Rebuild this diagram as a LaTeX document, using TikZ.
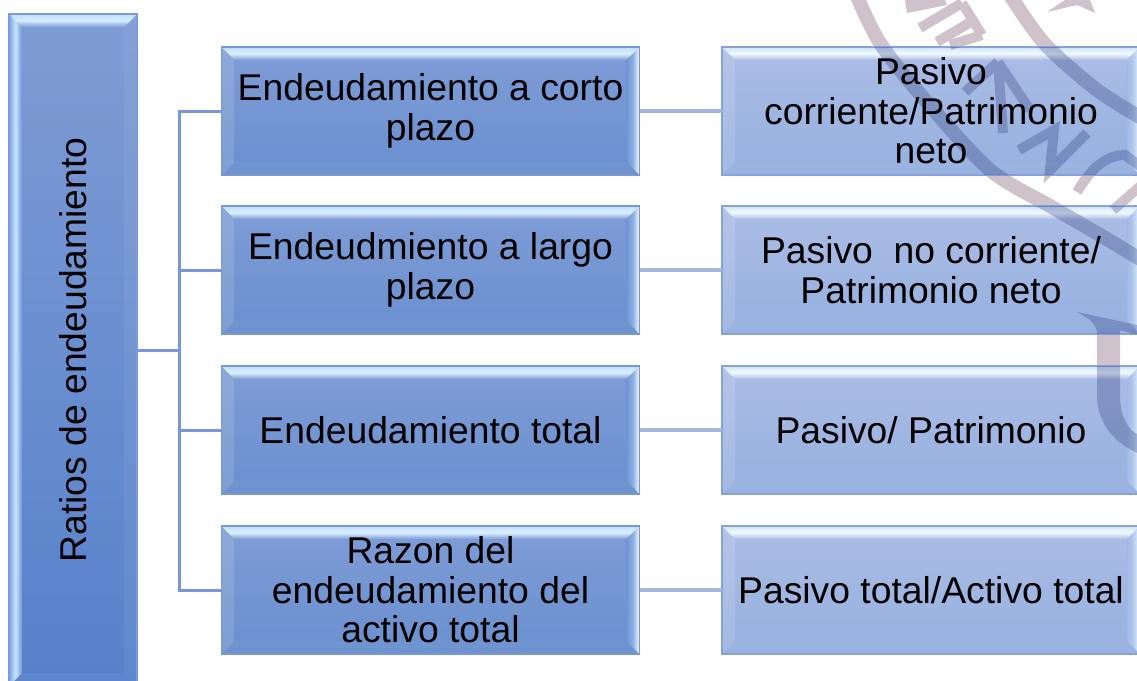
\documentclass[tikz,border=0pt]{standalone}
\usepackage{fontspec}
\setmainfont{Liberation Sans}
\usetikzlibrary{calc}
\definecolor{wm}{HTML}{CFC2CB}
\definecolor{wmdark}{HTML}{202C6E}
\newcommand{\hx}[1]{\definecolor{c#1}{HTML}{#1}}
\hx{7B96D4}\hx{7F9CD6}\hx{6A90CE}\hx{BFDCFB}\hx{DDF0FF}
\hx{8DB0E8}\hx{F4FCFF}\hx{7394D2}
\hx{86A2DC}\hx{ABBDE5}\hx{96B0DF}\hx{CFE3F9}\hx{F2FAFF}\hx{A2B8E2}\hx{B5CDEE}
\hx{7B9ADB}\hx{7F9CD4}\hx{5681CA}\hx{C0DEFC}\hx{D8EDFF}\hx{7DA3E6}\hx{6E92D8}\hx{C8E6FF}
\hx{7B96D8}\hx{A5B4DD}
\hx{FFFFFF}
% #1-#4 trapezoid, #5-#6 rectangle holding the strip's own gradient, #7 shading
\newcommand{\bevstrip}[7]{%
  \begin{scope}\clip #1 -- #2 -- #3 -- #4 -- cycle;
  \shade[#7] #5 rectangle #6;\end{scope}}
\newcommand{\bevel}[5]{%
  \path (path picture bounding box.south west) coordinate (BL)
        (path picture bounding box.north east) coordinate (TR);
  \coordinate (iBL) at ($(BL)+(#1,#1)$);
  \coordinate (iTR) at ($(TR)+(-#1,-#1)$);
  \coordinate (BR) at (BL-|TR); \coordinate (TL) at (TR-|BL);
  \coordinate (iBR) at (iBL-|iTR); \coordinate (iTL) at (iTR-|iBL);
  \bevstrip{(TL)}{(TR)}{(iTR)}{(iTL)}{(TL)}{(TR|-iTR)}{#2}
  \bevstrip{(BL)}{(BR)}{(iBR)}{(iBL)}{(BL)}{(BR|-iBL)}{#3}
  \bevstrip{(TL)}{(BL)}{(iBL)}{(iTL)}{(TL)}{(iBL|-BL)}{#4}
  \bevstrip{(TR)}{(BR)}{(iBR)}{(iTR)}{(TR)}{(iTR|-BR)}{#5}
}
\newcommand{\wmshapes}{%
 \draw[wmband] plot[smooth] coordinates {(855,-8) (880,43) (925,100) (990,170) (1050,206) (1100,235) (1145,262)};
 \draw[wmband] plot[smooth] coordinates {(1008,-8) (1044,43) (1097,90) (1145,120)};
 \draw[wmletter] (962,3) -- (982,35) (962,3) -- (920,28) (974,20) -- (937,42) (982,35) -- (950,45);
 \draw[wmletter] (998,62) -- (1003,133) (998,62) -- (965,92) (998,62) -- (1030,110);
 \draw[wmletter] (1019,150) -- (1054,130) -- (1050,170) -- (1087,133);
 \draw[wmletter] (1077,192) .. controls (1090,170) and (1105,155) .. (1125,155) -- (1145,170) (1113,210) -- (1145,182);
 \fill[wm] (1047,12) -- (1065,0) -- (1090,0) -- (1095,13) -- (1077,5) -- cycle;
 \fill[wm] (905,0) -- (945,0) -- (947,5) -- (907,13) -- cycle;
 \fill[wm] (1077,312) -- (1137,325) -- (1137,335) -- (1120,330) -- (1120,395) .. controls (1120,420) and (1130,430) .. (1137,434) -- (1137,453) .. controls (1110,440) and (1097,420) .. (1097,395) -- (1097,332) .. controls (1095,322) and (1088,318) .. (1077,312) -- cycle;
}
\tikzset{
  boxbase/.style={draw=#1,line width=1.2pt,inner sep=0pt,outer sep=0pt,align=center,
     font=\fontsize{37.3}{39.5}\selectfont,text=black,anchor=center},
  midbox/.style={boxbase=c7B96D4,minimum width=418pt,minimum height=128pt,
     top color=c7F9CD6,bottom color=c6A90CE,
     path picture={\bevel{13pt}
       {top color=cBFDCFB,bottom color=c7F9CD6,middle color=cDDF0FF}
       {top color=cFFFFFF,bottom color=cFFFFFF,opacity=.03}
       {top color=cFFFFFF,bottom color=cFFFFFF,opacity=.13}
       {left color=c7394D2,right color=cF4FCFF,middle color=c8DB0E8}}},
  rightbox/.style={boxbase=c86A2DC,minimum width=418pt,minimum height=128pt,
     top color=cABBDE5,bottom color=c96B0DF,
     path picture={\bevel{13pt}
       {top color=cCFE3F9,bottom color=cABBDE5,middle color=cF2FAFF}
       {top color=cFFFFFF,bottom color=cFFFFFF,opacity=.03}
       {top color=cFFFFFF,bottom color=cFFFFFF,opacity=.13}
       {left color=cA2B8E2,right color=cF2FAFF,middle color=cB5CDEE}}},
  rootbox/.style={boxbase=c7B9ADB,minimum width=128pt,minimum height=672pt,
     top color=c7F9CD4,bottom color=c5681CA,
     path picture={\bevel{13pt}
       {top color=cC0DEFC,bottom color=c7F9CD4,middle color=cD8EDFF}
       {top color=cFFFFFF,bottom color=cFFFFFF,opacity=.04}
       {left color=c7DA3E6,right color=c6E92D8,middle color=cC8E6FF}
       {top color=cFFFFFF,bottom color=cFFFFFF,opacity=.06}}},
  treeline/.style={draw=c7B96D8,line width=3pt},
  linkline/.style={draw=cA5B4DD,line width=4pt},
  wmband/.style={draw=wm,line width=14pt,fill=none},
  wmletter/.style={draw=wm,line width=10pt,fill=none},
  txt/.style={font=\fontsize{37.3}{39.5}\selectfont,align=center,inner sep=0pt,text=black}
}
\begin{document}
\begin{tikzpicture}[x=1pt,y=-1pt]
\useasboundingbox (0,0) rectangle (1137,680);
% seal behind the boxes
\begin{scope}
 \clip (700,0) rectangle (1137,680);
 \wmshapes
\end{scope}
\node[rootbox] (root) at (73,350) {};
\node[midbox] (m1) at (430.5,111) {};
\node[midbox] (m2) at (430.5,270) {};
\node[midbox] (m3) at (430.5,430) {};
\node[midbox] (m4) at (430.5,590) {};
\node[rightbox] (r1) at (931,111) {};
\node[rightbox] (r2) at (931,270) {};
\node[rightbox] (r3) at (931,430) {};
\node[rightbox] (r4) at (931,590) {};
% seal showing through the translucent boxes
\begin{scope}
 \clip (722,47) rectangle (1137,175) (722,206) rectangle (1137,334) (722,366) rectangle (1137,494);
 \begin{scope}[opacity=.27]
 \colorlet{wm}{wmdark}
 \wmshapes
 \end{scope}
\end{scope}
\node[rotate=90,txt] (roottext) at (73,350) {Ratios de endeudamiento};
\node[txt] (t1) at (m1) {Endeudamiento a corto\\plazo};
\node[txt] (t2) at (m2) {Endeudmiento a largo\\plazo};
\node[txt] (t3) at (m3) {Endeudamiento total};
\node[txt] (t4) at (m4) {Razon del\\endeudamiento del\\activo total};
\node[txt] (u1) at (r1) {Pasivo\\corriente/Patrimonio\\neto};
\node[txt] (u2) at (r2) {Pasivo\ \ no corriente/\\Patrimonio neto};
\node[txt] (u3) at (r3) {Pasivo/ Patrimonio};
\node[txt] (u4) at (r4) {Pasivo total/Activo total};
\coordinate (junction) at (179,350);
\draw[treeline] (root.east) -- (junction);
\draw[treeline] (junction) |- (m1.west);
\draw[treeline] (junction) |- (m2.west);
\draw[treeline] (junction) |- (m3.west);
\draw[treeline] (junction) |- (m4.west);
\foreach \i in {1,2,3,4}{\draw[linkline] (m\i.east) -- (r\i.west);}
\end{tikzpicture}
\end{document}
